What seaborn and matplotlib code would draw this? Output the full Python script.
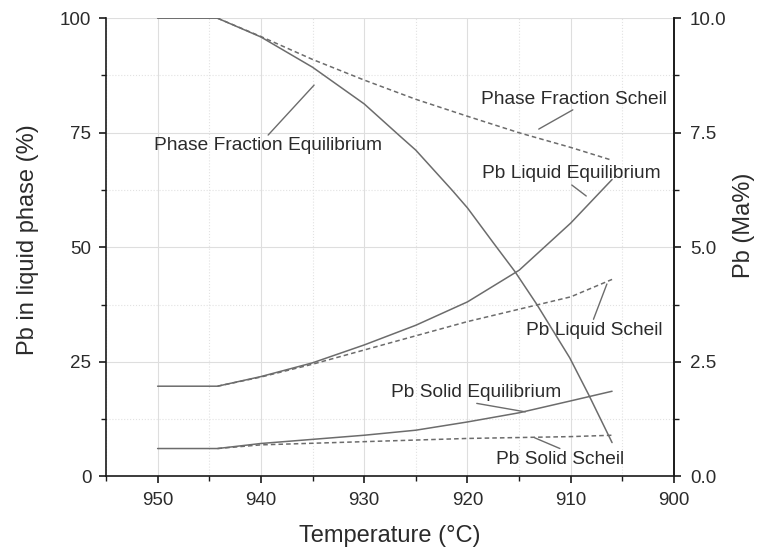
import numpy as np
import pandas as pd
import matplotlib
matplotlib.use('Agg')
import matplotlib.pyplot as plt
import seaborn as sns
from matplotlib.ticker import MultipleLocator, FormatStrFormatter

# ---- data ----
t_pf_eq = [950, 944.2, 940, 935, 930, 926.5, 925, 921.5, 920, 917.5, 915.4, 913.3, 910.1, 908.3, 906]
pf_eq = [100, 100, 95.9, 89.3, 81.3, 74.2, 71.2, 62.5, 58.6, 51.0, 44.7, 37.6, 25.9, 18.0, 7.4]
t_pf_sch = [944.2, 940, 935, 930, 925, 920, 915, 910, 906]
pf_sch = [100, 96.0, 91.0, 86.5, 82.3, 78.6, 75.0, 71.8, 69.0]
t_liq_eq = [950, 944.2, 940, 935, 930, 925, 920, 915, 910, 906]
liq_eq = [19.7, 19.7, 21.8, 24.8, 28.7, 33.0, 38.1, 45.0, 55.3, 64.8]
t_liq_sch = [944.2, 940, 935, 930, 925, 920, 915, 910, 906]
liq_sch = [19.7, 21.7, 24.5, 27.6, 30.7, 33.8, 36.5, 39.2, 43.0]
t_sol_eq = [950, 944.2, 940, 935, 930, 925, 920, 915, 910, 906]
sol_eq = [6.1, 6.1, 7.2, 8.1, 9.0, 10.1, 11.9, 13.9, 16.5, 18.6]
t_sol_sch = [944.2, 940, 935, 930, 925, 920, 915, 910, 906]
sol_sch = [6.1, 6.9, 7.25, 7.6, 7.95, 8.3, 8.5, 8.7, 9.0]

series_names = ['Phase Fraction Equilibrium', 'Phase Fraction Scheil',
                'Pb Liquid Equilibrium', 'Pb Liquid Scheil',
                'Pb Solid Equilibrium', 'Pb Solid Scheil']
series_t = [t_pf_eq, t_pf_sch, t_liq_eq, t_liq_sch, t_sol_eq, t_sol_sch]
series_v = [pf_eq, pf_sch, liq_eq, liq_sch, sol_eq, sol_sch]

# label positions (data coords) and leader lines
label_x = [939.3, 909.7, 909.9, 907.7, 919.15, 911.0]
label_y = [72.2, 82.3, 66.1, 31.9, 18.3, 3.8]
lead_x0 = [939.3, 913.1, 909.9, 907.8, 919.1, 911.05]
lead_y0 = [74.5, 75.8, 63.6, 34.3, 15.95, 6.1]
lead_x1 = [934.85, 909.8, 908.5, 906.5, 914.4, 913.5]
lead_y1 = [85.4, 80.0, 61.2, 42.0, 14.1, 8.45]

x_ticks = [950, 940, 930, 920, 910, 900]
y_ticks = [0, 25, 50, 75, 100]
y2_ticks = [0.0, 2.5, 5.0, 7.5, 10.0]

# ---- style ----
sns.set_theme(style='white')
plt.rcParams['font.family'] = ['Liberation Sans', 'DejaVu Sans']
TXT = '#2b2b2b'
LINE = '#6c6c6c'
AX = '#1a1a1a'

fig = plt.figure(figsize=(7.57, 5.48), dpi=100)
ax = fig.add_axes([0.1400, 0.1305, 0.8904 - 0.1400, 0.9668 - 0.1305])

frames = []
for name, t, v in zip(series_names, series_t, series_v):
    frames.append(pd.DataFrame({'T': t, 'val': v, 'series': name,
                                'method': 'Scheil' if 'Scheil' in name else 'Equilibrium'}))
df = pd.concat(frames, ignore_index=True)

sns.lineplot(data=df, x='T', y='val', hue='series', style='method',
             palette=[LINE] * len(series_names),
             dashes={'Equilibrium': '', 'Scheil': (3, 2)},
             estimator=None, sort=False, legend=False, linewidth=1.1, ax=ax)

ax.set_xlim(955, 900)
ax.set_ylim(0, 100)
ax.set_xticks(x_ticks)
ax.set_yticks(y_ticks)
ax.xaxis.set_minor_locator(MultipleLocator(5))
ax.yaxis.set_minor_locator(MultipleLocator(12.5))

ax.set_axisbelow(True)
ax.grid(which='major', color='#dedede', linewidth=0.8, linestyle='-')
ax.grid(which='minor', color='#e2e2e2', linewidth=0.8, linestyle=':')

for sp in ['left', 'bottom', 'right']:
    ax.spines[sp].set_color(AX)
    ax.spines[sp].set_linewidth(1.2)
ax.spines['top'].set_visible(False)

ax.tick_params(which='major', direction='out', length=5, width=1.2, color=AX,
               labelsize=13.5, labelcolor=TXT, left=True, bottom=True)
ax.tick_params(axis='x', which='major', pad=6)
ax.tick_params(axis='y', which='major', pad=5.5)
ax.tick_params(which='minor', direction='out', length=3.5, width=1.0, color=AX,
               left=True, bottom=True)

ax.set_xlabel('Temperature (°C)', fontsize=17, color=TXT, labelpad=12)
ax.set_ylabel('Pb in liquid phase (%)', fontsize=17, color=TXT)
ax.yaxis.set_label_coords(-0.118, 0.516)

ax2 = ax.twinx()
ax2.set_ylim(0, 10)
ax2.set_yticks(y2_ticks)
ax2.yaxis.set_major_formatter(FormatStrFormatter('%.1f'))
ax2.yaxis.set_minor_locator(MultipleLocator(1.25))
ax2.grid(False)
for sp in ['left', 'bottom', 'top']:
    ax2.spines[sp].set_visible(False)
ax2.spines['right'].set_color(AX)
ax2.spines['right'].set_linewidth(1.2)
ax2.tick_params(which='major', direction='out', length=5, width=1.2, color=AX,
                labelsize=13.5, labelcolor=TXT, pad=6.5, right=True)
ax2.tick_params(which='minor', direction='out', length=3.5, width=1.0, color=AX, right=True)
ax2.set_ylabel('Pb (Ma%)', fontsize=17, color=TXT)
ax2.yaxis.set_label_coords(1.103, 0.547)

for name, lx, ly, x0, y0, x1, y1 in zip(series_names, label_x, label_y,
                                         lead_x0, lead_y0, lead_x1, lead_y1):
    ax.text(lx, ly, name, ha='center', va='center', fontsize=13.8, color=TXT)
    ax.annotate('', xy=(x1, y1), xytext=(x0, y0),
                arrowprops=dict(arrowstyle='-', color=LINE, lw=1.0,
                                shrinkA=0, shrinkB=0))

fig.savefig('out.png', dpi=100)
